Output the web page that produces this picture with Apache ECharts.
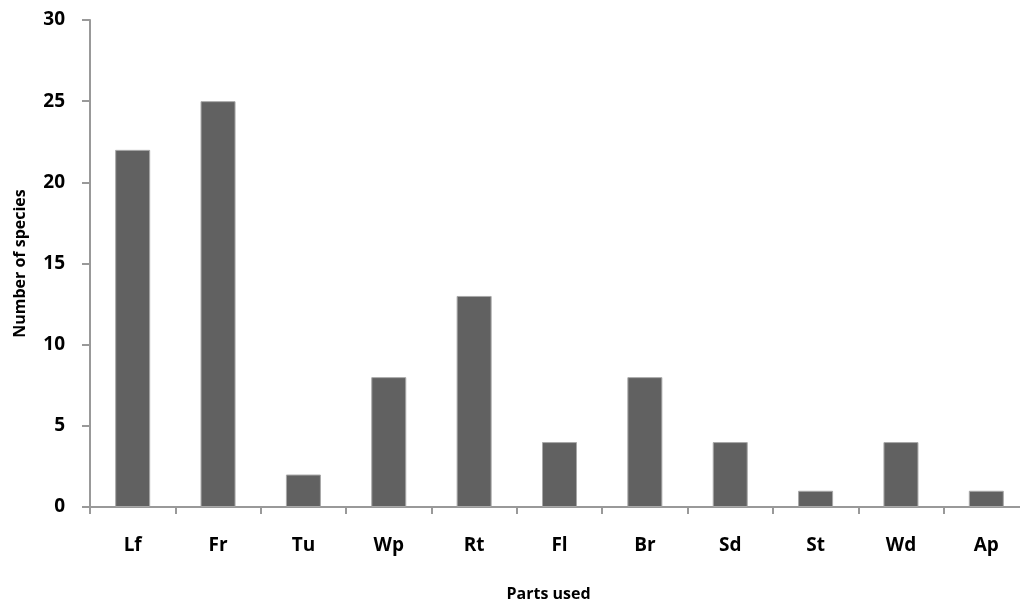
<!DOCTYPE html>
<html>
<head>
<meta charset="utf-8">
<script src="https://cdn.jsdelivr.net/npm/echarts@6/dist/echarts.min.js"></script>
<style>
html,body{margin:0;padding:0;background:#fff;}
#main-chart{width:1020px;height:604px;}
</style>
</head>
<body>
<div id="main-chart"></div>
<script>
// 数据
var partNames = ['Lf', 'Fr', 'Tu', 'Wp', 'Rt', 'Fl', 'Br', 'Sd', 'St', 'Wd', 'Ap'];
var speciesCount = [22, 25, 2, 8, 13, 4, 8, 4, 1, 4, 1];

var fontName = '"Open Sans", Lato, sans-serif';

option = {
	backgroundColor:'#fff',
	animation: false,
	grid: {
		left: 90,
		right: -9,
		top: 20,
		bottom: 97,
		containLabel: false,
		outerBoundsMode: 'none'
	},
	xAxis : [
		{
			type : 'category',
			data: partNames,
			name: 'Parts used',
			nameLocation: 'middle',
			nameGap: 79,
			nameTextStyle: {color:'#000', fontWeight:'bold', fontSize:16, fontFamily:fontName, padding:[0, 22, 0, 0]},
			axisLine:{show:true, lineStyle:{color:'#999', width:2}},
			axisTick:{show:true, length:7, lineStyle:{color:'#999', width:2}},
			axisLabel:{color:'#000', fontWeight:'bold', fontSize:19, fontFamily:fontName, margin:29}
		}
	],
	yAxis : [
		{
			type : 'value',
			min: 0,
			max: 30,
			interval: 5,
			name: 'Number of species',
			nameLocation: 'middle',
			nameGap: 62,
			nameTextStyle: {color:'#000', fontWeight:'bold', fontSize:16, fontFamily:fontName},
			splitLine:{show:false},
			axisLine:{show:true, lineStyle:{color:'#999', width:2}},
			axisTick:{show:true, length:8, lineStyle:{color:'#999', width:2}},
			axisLabel:{color:'#000', fontWeight:'bold', fontSize:19, fontFamily:fontName, margin:25}
		}
	],
	series : [
		{
			name:'Number of species',
			type:'bar',
			barWidth: 35,
			data: speciesCount,
			itemStyle: {color:'#616161', borderColor:'#a8a8a8', borderWidth:1}
		}
	]
};

/*初始化echarts实例*/
var myChart = echarts.init(document.getElementById('main-chart'));
myChart.setOption(option);
</script>
</body>
</html>
